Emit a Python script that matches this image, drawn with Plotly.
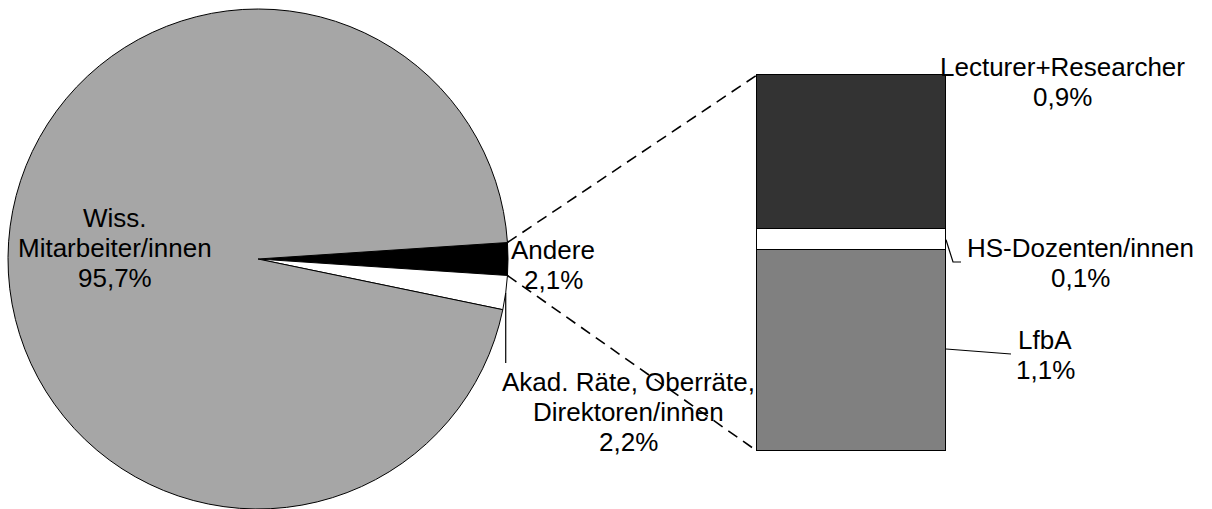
import math
import plotly.graph_objects as go

# ---------------- data ----------------
pie_labels = ["Andere", "Akad. Räte, Oberräte,<br>Direktoren/innen", "Wiss.<br>Mitarbeiter/innen"]
pie_values = [2.1, 2.2, 95.7]
pie_colors = ["#000000", "#ffffff", "#a6a6a6"]

bar_labels = ["LfbA", "HS-Dozenten/innen", "Lecturer+Researcher"]   # bottom -> top
bar_values = [1.12, 0.12, 0.86]
bar_colors = ["#808080", "#ffffff", "#333333"]

# ---------------- layout helpers ----------------
W, H = 1212, 509
FONT = "Liberation Sans, Arial, sans-serif"
FS = 26
LINE = 30  # pixel distance between text lines


def px(x):
    return x / W


def py(y):
    return 1 - y / H


def fmt(v):
    return f"{v:.1f}".replace(".", ",") + "%"


# pie geometry (pixels)
pie_left, pie_right = 8, 508
pie_top, pie_bottom = 9, 509
cx = (pie_left + pie_right) / 2
cy = (pie_top + pie_bottom) / 2
r = (pie_right - pie_left) / 2
total = sum(pie_values)
rotation = 90 - 360 * pie_values[0] / total / 2  # centre "Andere" on the horizontal


def rim(theta_deg):
    t = math.radians(theta_deg)
    return cx + r * math.sin(t), cy - r * math.cos(t)


a_start = rotation
a_end = rotation + 360 * pie_values[0] / total
b_mid = a_end + 360 * pie_values[1] / total / 2

# bar geometry (pixels)
bar_left, bar_right = 757, 946
bar_top, bar_bottom = 75, 451
pad = 6  # extra axis room so the bar outline is not clipped
bar_w = bar_right - bar_left
half = 0.5 * (bar_w + 2 * pad) / bar_w

fig = go.Figure()

fig.add_trace(go.Pie(
    labels=pie_labels,
    values=pie_values,
    sort=False,
    direction="clockwise",
    rotation=rotation,
    marker=dict(colors=pie_colors, line=dict(color="#000000", width=1)),
    textinfo="none",
    hoverinfo="skip",
    showlegend=False,
    domain=dict(x=[px(pie_left), px(pie_right)], y=[py(pie_bottom), py(pie_top)]),
))

for lab, val, col in zip(bar_labels, bar_values, bar_colors):
    fig.add_trace(go.Bar(
        x=[0], y=[val], name=lab,
        marker=dict(color=col, line=dict(color="#000000", width=1.5)),
        width=1, showlegend=False, hoverinfo="skip",
    ))

# connector dashed lines
DASH = "11px,7px"
p1 = rim(a_start)
p2 = rim(a_end)
shapes = [
    dict(type="line", xref="paper", yref="paper",
         x0=px(p1[0]), y0=py(p1[1]), x1=px(bar_left), y1=py(bar_top),
         line=dict(color="#000000", width=1.6, dash=DASH)),
    dict(type="line", xref="paper", yref="paper",
         x0=px(p2[0]), y0=py(p2[1]), x1=px(bar_left), y1=py(bar_bottom),
         line=dict(color="#000000", width=1.6, dash=DASH)),
]

# leader line for Akad. slice
pb = rim(b_mid)
shapes.append(dict(type="line", xref="paper", yref="paper",
                   x0=px(pb[0]), y0=py(pb[1]), x1=px(pb[0]), y1=py(363),
                   line=dict(color="#000000", width=1.2)))

# leader lines for bar segments
bar_y = lambda v: bar_bottom - (bar_bottom - bar_top) * v / sum(bar_values)
hs_mid = bar_y(bar_values[0] + bar_values[1] / 2)
shapes.append(dict(type="path", xref="paper", yref="paper",
                   path=f"M {px(bar_right)},{py(hs_mid)} L {px(953)},{py(262)} L {px(961)},{py(262)}",
                   line=dict(color="#000000", width=1.2)))
shapes.append(dict(type="line", xref="paper", yref="paper",
                   x0=px(bar_right), y0=py(349), x1=px(1011), y1=py(354),
                   line=dict(color="#000000", width=1.2)))

annotations = []


def add_text(text, x, y_first):
    for i, line in enumerate(text.split("<br>")):
        annotations.append(dict(text=line, x=px(x), y=py(y_first + i * LINE),
                                xref="paper", yref="paper",
                                xanchor="center", yanchor="middle", align="center",
                                showarrow=False,
                                font=dict(family=FONT, size=FS, color="#000000")))


add_text(f"{pie_labels[2]}<br>{fmt(pie_values[2])}", 115, 218)
add_text(f"{pie_labels[0]}<br>{fmt(pie_values[0])}", 553, 250)
add_text(f"{pie_labels[1]}<br>{fmt(pie_values[1])}", 628, 382)
add_text(f"{bar_labels[2]}<br>{fmt(bar_values[2])}", 1062, 67)
add_text(f"{bar_labels[1]}<br>{fmt(bar_values[1])}", 1080, 248)
add_text(f"{bar_labels[0]}<br>{fmt(bar_values[0])}", 1045, 340)

pad_y = pad * sum(bar_values) / (bar_bottom - bar_top)

fig.update_layout(
    width=W, height=H,
    margin=dict(l=0, r=0, t=0, b=0),
    paper_bgcolor="#ffffff", plot_bgcolor="rgba(0,0,0,0)",
    barmode="stack", bargap=0,
    xaxis=dict(domain=[px(bar_left - pad), px(bar_right + pad)], range=[-half, half],
               visible=False, fixedrange=True),
    yaxis=dict(domain=[py(bar_bottom), py(bar_top - pad)], range=[0, sum(bar_values) + pad_y],
               visible=False, fixedrange=True),
    shapes=shapes,
    annotations=annotations,
    font=dict(family=FONT, size=FS),
)

fig.write_html("out.html",
               config={"displayModeBar": False},
               post_script="document.body.style.margin='0';document.body.style.overflow='hidden';")
